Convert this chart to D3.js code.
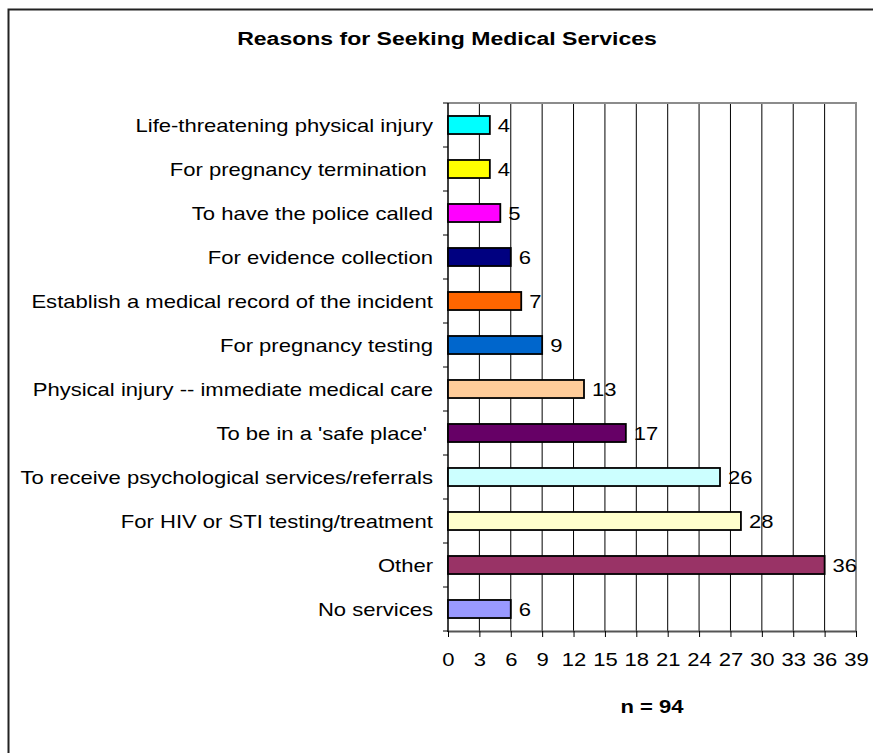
<!DOCTYPE html>
<html>
<head>
<meta charset="utf-8">
<script src="https://cdn.jsdelivr.net/npm/d3@7"></script>
<style>
  body { margin: 0; background: #fff; }
  text { font-family: "Liberation Sans", Arial, sans-serif; white-space: pre; }
</style>
</head>
<body>
<div id="chart"></div>
<script>
const categories = [
  "Life-threatening physical injury",
  "For pregnancy termination ",
  "To have the police called",
  "For evidence collection",
  "Establish a medical record of the incident",
  "For pregnancy testing",
  "Physical injury -- immediate medical care",
  "To be in a 'safe place' ",
  "To receive psychological services/referrals",
  "For HIV or STI testing/treatment",
  "Other",
  "No services"
];
const counts = [4, 4, 5, 6, 7, 9, 13, 17, 26, 28, 36, 6];
const xTicks = [0, 3, 6, 9, 12, 15, 18, 21, 24, 27, 30, 33, 36, 39];
const title = "Reasons for Seeking Medical Services";
const note = "n = 94";

const barColors = ["#00ffff", "#ffff00", "#ff00ff", "#000080", "#ff6600", "#0066cc",
                   "#ffcc99", "#660066", "#ccffff", "#ffffcc", "#993366", "#9999ff"];

let W = 873, H = 753;
let plot = {left: 448, right: 856, top: 103, bottom: 631};
let sx = 1.16; // text in the source is stretched sideways

let svg = d3.select("#chart").append("svg")
            .attr("width", W)
            .attr("height", H);

svg.append("rect")
   .attr("x", 8.5).attr("y", 9.5)
   .attr("width", 900).attr("height", 800)
   .attr("fill", "none")
   .attr("stroke", "#222")
   .attr("stroke-width", 2);

let x = d3.scaleLinear()
          .domain([0, 39])
          .range([plot.left, plot.right]);
let y = d3.scaleBand()
          .domain(categories)
          .range([plot.top, plot.bottom])
          .paddingInner(0.59)
          .paddingOuter(0.295);

// vertical gridlines
svg.append("g")
   .selectAll("line")
   .data(xTicks.slice(1, -1))
   .join("line")
   .attr("x1", d => x(d)).attr("x2", d => x(d))
   .attr("y1", plot.top).attr("y2", plot.bottom)
   .attr("stroke", "#000")
   .attr("stroke-width", 1);

// frame top / right in grey
svg.append("path")
   .attr("d", `M${plot.left},${plot.top}H${plot.right}V${plot.bottom}`)
   .attr("fill", "none")
   .attr("stroke", "#8c8c8c")
   .attr("stroke-width", 2);

// bottom axis
let xAxis = svg.append("g")
   .attr("transform", "translate(0," + plot.bottom + ")")
   .call(d3.axisBottom(x).tickValues(xTicks).tickSize(6).tickSizeOuter(0).tickFormat(""));
xAxis.select(".domain").attr("stroke", "#555").attr("stroke-width", 2);
xAxis.selectAll(".tick line").attr("stroke", "#000");

xAxis.selectAll(".tick")
   .append("text")
   .attr("transform", `translate(0,35) scale(${sx},1)`)
   .attr("text-anchor", "middle")
   .attr("fill", "#000")
   .style("font-size", "19px")
   .text(d => d);

// left axis: ticks between categories
let bounds = d3.range(categories.length + 1).map(i => plot.top + i * y.step());
svg.append("g")
   .selectAll("line")
   .data(bounds)
   .join("line")
   .attr("x1", plot.left - 5).attr("x2", plot.left)
   .attr("y1", d => d).attr("y2", d => d)
   .attr("stroke", "#000");
svg.append("line")
   .attr("x1", plot.left).attr("x2", plot.left)
   .attr("y1", plot.top).attr("y2", plot.bottom + 1)
   .attr("stroke", "#000")
   .attr("stroke-width", 1.5);

svg.append("g")
   .selectAll("text")
   .data(categories)
   .join("text")
   .attr("transform", d => `translate(433,${y(d) + y.bandwidth() / 2}) scale(${sx},1)`)
   .attr("text-anchor", "end")
   .attr("dy", "0.35em")
   .style("font-size", "19px")
   .text(d => d);

// bars
svg.append("g")
   .selectAll("rect")
   .data(counts)
   .join("rect")
   .attr("x", x(0))
   .attr("y", (d, i) => y(categories[i]))
   .attr("width", d => x(d) - x(0))
   .attr("height", y.bandwidth())
   .attr("fill", (d, i) => barColors[i])
   .attr("stroke", "#000")
   .attr("stroke-width", 1.8);

svg.append("g")
   .selectAll("text")
   .data(counts)
   .join("text")
   .attr("transform", (d, i) => `translate(${x(d) + 8},${y(categories[i]) + y.bandwidth() / 2}) scale(${sx},1)`)
   .attr("dy", "0.35em")
   .style("font-size", "19px")
   .text(d => d);

svg.append("text")
   .attr("transform", `translate(447,45) scale(1.28,1)`)
   .attr("text-anchor", "middle")
   .style("font-size", "18px")
   .style("font-weight", "bold")
   .text(title);

svg.append("text")
   .attr("transform", `translate(652,713) scale(${sx},1)`)
   .attr("text-anchor", "middle")
   .style("font-size", "19px")
   .style("font-weight", "bold")
   .text(note);
</script>
</body>
</html>
